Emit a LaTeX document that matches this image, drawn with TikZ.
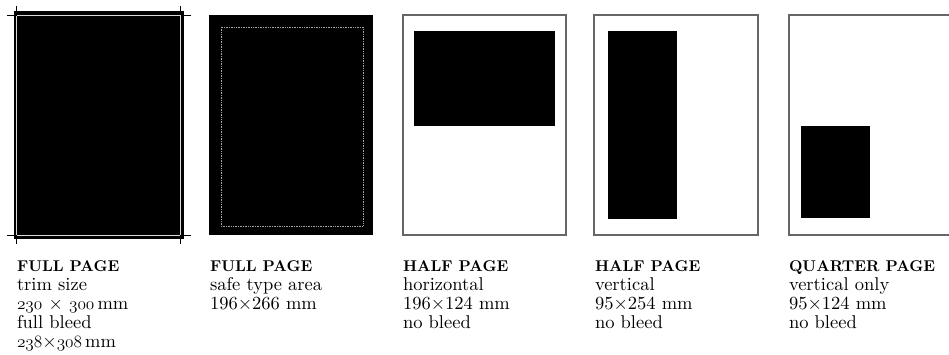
\documentclass[tikz,border=0pt]{standalone}
\usepackage{fontspec}
\usepackage{tikz}
\usetikzlibrary{positioning}

% captions in the 10pt design size of Latin Modern
\newfontfamily\capfont{lmroman10-regular.otf}[BoldFont=lmroman10-bold.otf]
\newcommand{\osf}[1]{{\usefont{OML}{cmm}{m}{it}#1}}

\begin{document}
\begin{tikzpicture}[
      x=1pt, y=-1pt,
      every node/.style={inner sep=0pt, outer sep=0pt},
      pageframe/.style={draw=black!60, line width=1.3pt, fill=white},
      adblock/.style={fill=black},
      trimline/.style={draw=white!85!black, line width=0.8pt},
      cropmark/.style={draw=black, line width=0.9pt},
      safeline/.style={draw=white!65!black, line width=0.7pt, dash pattern=on 0.8pt off 0.9pt},
      % captions are placed by the baseline of their last line
      caption/.style={anchor=base west, align=left, font=\capfont\fontsize{18.5}{19}\selectfont},
  ]
      \useasboundingbox (0,0) rectangle (949,354);
      \newcommand{\head}[1]{{\bfseries\fontsize{15.6}{19}\selectfont #1}}

      % --- FULL PAGE: trim size and bleed ---
      \fill[adblock] (14,11) rectangle (184,239);
      \draw[trimline] (16.5,15) rectangle (180.5,235);
      \draw[cropmark] (16.5,6) -- (16.5,15) (7,15) -- (16.5,15);
      \draw[cropmark] (180.5,6) -- (180.5,15) (180.5,15) -- (191,15);
      \draw[cropmark] (16.5,235) -- (16.5,244) (7,235) -- (16.5,235);
      \draw[cropmark] (180.5,235) -- (180.5,244) (180.5,235) -- (191,235);

      % --- FULL PAGE: safe type area ---
      \fill[adblock] (209,15) rectangle (373,235);
      \draw[safeline] (221,27) rectangle (363,226);

      % --- HALF PAGE horizontal ---
      \draw[pageframe] (403,15) rectangle (566,235);
      \fill[adblock] (414,31) rectangle (555,126);

      % --- HALF PAGE vertical ---
      \draw[pageframe] (594,15) rectangle (758,235);
      \fill[adblock] (608,31) rectangle (677,219);

      % --- QUARTER PAGE (runs off the right edge) ---
      \draw[pageframe] (789,15) rectangle (955,235);
      \fill[adblock] (801,126) rectangle (870,218);

      % --- Captions ---
      \node[caption] (fulltrim) at (17,347) {\head{FULL PAGE}\\trim size\\\osf{230} × \osf{300}\,mm\\full bleed\\\osf{238}×\osf{308}\,mm};
      \node[caption] (fullsafe) at (210,309) {\head{FULL PAGE}\\safe type area\\196×266 mm};
      \node[caption] (halfhor) at (403,328) {\head{HALF PAGE}\\horizontal\\196×124 mm\\no bleed};
      \node[caption] (halfvert) at (595,328) {\head{HALF PAGE}\\vertical\\95×254 mm\\no bleed};
      \node[caption] (quarter) at (789,328) {\head{QUARTER PAGE}\\vertical only\\95×124 mm\\no bleed};
  \end{tikzpicture}
\end{document}
